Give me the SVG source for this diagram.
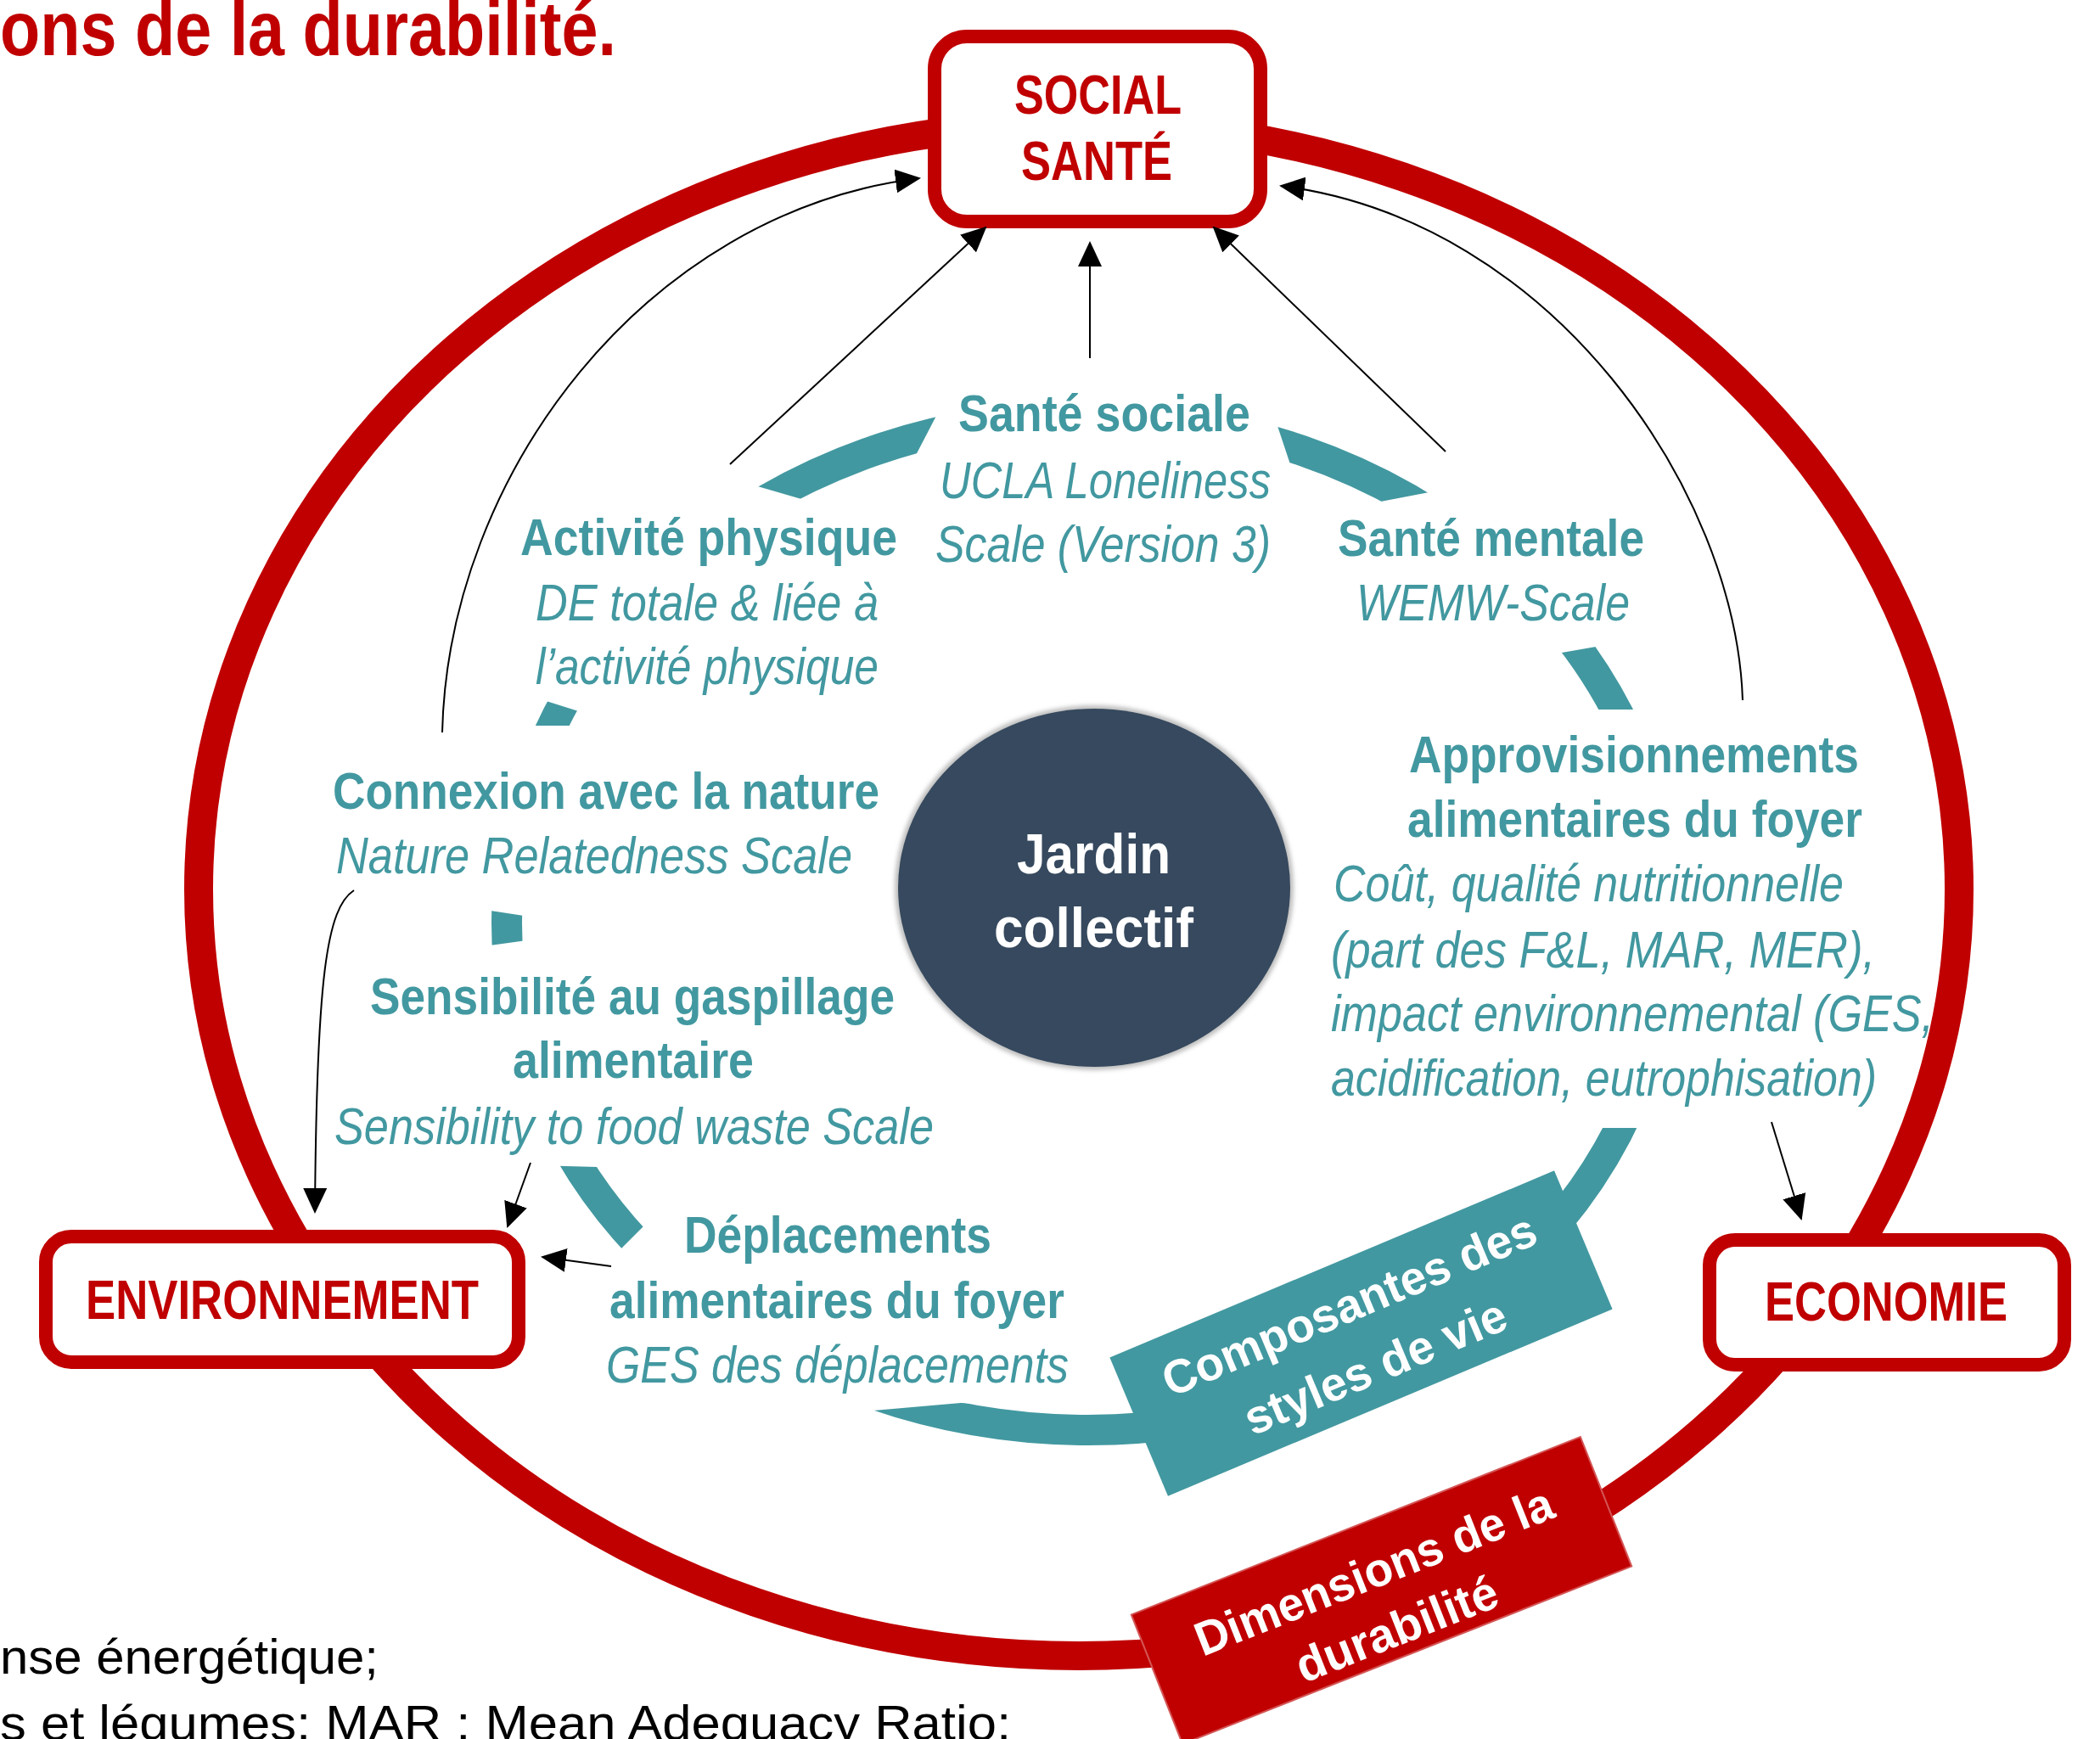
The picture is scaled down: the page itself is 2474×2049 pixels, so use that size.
<svg xmlns="http://www.w3.org/2000/svg" width="2474" height="2049" viewBox="0 0 2474 2049">
<style>
.n { font-family: 'Liberation Sans Narrow','Arial Narrow','Liberation Sans',Arial,sans-serif; }
.w { font-family: 'Liberation Sans',Arial,sans-serif; }
.tb { font-weight: bold; font-size: 61px; fill: #4298A0; }
.ti { font-style: italic; font-size: 61px; fill: #4298A0; }
.rl { font-weight: bold; font-size: 64px; fill: #C00000; }
.wl { font-weight: bold; font-size: 56px; fill: #FFFFFF; }
.box { fill: #FFFFFF; stroke: #C00000; stroke-width: 16; }
.con { fill: none; stroke: #000000; stroke-width: 2; marker-end: url(#ah); }
.foot { font-family: 'Liberation Sans',Arial,sans-serif; font-size: 58px; fill: #000000; }
</style>
<defs>
<marker id="ah" viewBox="0 0 30 28" refX="28" refY="14" markerWidth="30" markerHeight="28" markerUnits="userSpaceOnUse" orient="auto">
<path d="M0,0 L30,14 L0,28 z" fill="#000000"/>
</marker>
<mask id="ringmask" maskUnits="userSpaceOnUse" x="0" y="0" width="2474" height="2049">
<rect x="0" y="0" width="2474" height="2049" fill="#FFFFFF"/>
<polygon points="1116,465 1300,440 1496,475 1531,580 1064,565" fill="#000000"/>
<polygon points="1590,598 1715,574 1920,755 1800,776" fill="#000000"/>
<polygon points="1840,836 2020,836 2020,1329 1840,1329" fill="#000000"/>
<polygon points="790,1413 1320,1600 1320,1664 1132,1653 1029,1662 1010,1730 705,1498" fill="#000000"/>
<polygon points="630,1373 740,1376 650,1104 555,1117" fill="#000000"/>
<polygon points="545,1068 650,1084 710,855 600,855" fill="#000000"/>
<polygon points="615,817 700,660 865,565 975,597 710,847" fill="#000000"/>
</mask>
<filter id="glow" x="-10%" y="-10%" width="120%" height="120%">
<feGaussianBlur stdDeviation="2.5"/>
</filter>
</defs>

<text id="title" class="n" x="0" y="65" font-weight="bold" font-size="90" fill="#C00000" textLength="726" lengthAdjust="spacingAndGlyphs">ons de la durabilité.</text>

<g id="sustainability-ring">
<ellipse cx="1271" cy="1048" rx="1037" ry="903" fill="none" stroke="#C00000" stroke-width="34"/>
</g>

<g id="lifestyle-ring">
<ellipse cx="1282" cy="1087" rx="685" ry="598" fill="none" stroke="#4298A0" stroke-width="36" mask="url(#ringmask)"/>
</g>

<g id="jardin">
<ellipse cx="1289" cy="1046" rx="235" ry="215" fill="#BFBFBF" filter="url(#glow)"/>
<ellipse cx="1289" cy="1046" rx="231" ry="211" fill="#36495E"/>
<text class="n" x="1198" y="1029" font-weight="bold" font-size="66" fill="#FFFFFF" textLength="181" lengthAdjust="spacingAndGlyphs">Jardin</text>
<text class="n" x="1171" y="1116" font-weight="bold" font-size="66" fill="#FFFFFF" textLength="235" lengthAdjust="spacingAndGlyphs">collectif</text>
</g>

<g id="label-composantes" transform="translate(1603.5,1571) rotate(-22.8)">
<rect x="-284" y="-88.5" width="568" height="177" fill="#4298A0"/>
<text class="w wl" x="0" y="-17" text-anchor="middle" textLength="472" lengthAdjust="spacingAndGlyphs">Composantes des</text>
<text class="w wl" x="0" y="62" text-anchor="middle" textLength="330" lengthAdjust="spacingAndGlyphs">styles de vie</text>
</g>

<g id="label-dimensions" transform="translate(1627.5,1874) rotate(-21.6)">
<rect x="-284.5" y="-82" width="569" height="164" fill="#C00000" stroke="#D45555" stroke-width="2"/>
<text class="w wl" x="0" y="-5" text-anchor="middle" textLength="449" lengthAdjust="spacingAndGlyphs">Dimensions de la</text>
<text class="w wl" x="0" y="68" text-anchor="middle" textLength="251" lengthAdjust="spacingAndGlyphs">durabilité</text>
</g>

<g id="social-sante">
<rect class="box" x="1101" y="43" width="384" height="218" rx="38" ry="38"/>
<text class="n rl" x="1195" y="134" textLength="197" lengthAdjust="spacingAndGlyphs">SOCIAL</text>
<text class="n rl" x="1203" y="212" textLength="178" lengthAdjust="spacingAndGlyphs">SANTÉ</text>
</g>

<g id="environnement">
<rect class="box" x="54" y="1457" width="557" height="148" rx="30" ry="30"/>
<text class="n rl" x="101" y="1554" textLength="463" lengthAdjust="spacingAndGlyphs">ENVIRONNEMENT</text>
</g>

<g id="economie">
<rect class="box" x="2014" y="1461" width="418" height="147" rx="30" ry="30"/>
<text class="n rl" x="2079" y="1556" textLength="286" lengthAdjust="spacingAndGlyphs">ECONOMIE</text>
</g>

<g id="sante-sociale">
<text class="n tb" x="1129" y="508" textLength="344" lengthAdjust="spacingAndGlyphs">Santé sociale</text>
<text class="n ti" x="1107" y="587" textLength="390" lengthAdjust="spacingAndGlyphs">UCLA Loneliness</text>
<text class="n ti" x="1102" y="662" textLength="395" lengthAdjust="spacingAndGlyphs">Scale (Version 3)</text>
</g>

<g id="activite-physique">
<text class="n tb" x="613" y="654" textLength="444" lengthAdjust="spacingAndGlyphs">Activité physique</text>
<text class="n ti" x="631" y="731" textLength="404" lengthAdjust="spacingAndGlyphs">DE totale &amp; liée à</text>
<text class="n ti" x="631" y="806" textLength="404" lengthAdjust="spacingAndGlyphs">l’activité physique</text>
</g>

<g id="sante-mentale">
<text class="n tb" x="1576" y="655" textLength="361" lengthAdjust="spacingAndGlyphs">Santé mentale</text>
<text class="n ti" x="1598" y="731" textLength="322" lengthAdjust="spacingAndGlyphs">WEMW-Scale</text>
</g>

<g id="approvisionnements">
<text class="n tb" x="1660" y="910" textLength="530" lengthAdjust="spacingAndGlyphs">Approvisionnements</text>
<text class="n tb" x="1658" y="986" textLength="536" lengthAdjust="spacingAndGlyphs">alimentaires du foyer</text>
<text class="n ti" x="1571" y="1062" textLength="601" lengthAdjust="spacingAndGlyphs">Coût, qualité nutritionnelle</text>
<text class="n ti" x="1568" y="1140" textLength="641" lengthAdjust="spacingAndGlyphs">(part des F&amp;L, MAR, MER),</text>
<text class="n ti" x="1568" y="1215" textLength="710" lengthAdjust="spacingAndGlyphs">impact environnemental  (GES,</text>
<text class="n ti" x="1568" y="1291" textLength="643" lengthAdjust="spacingAndGlyphs">acidification, eutrophisation)</text>
</g>

<g id="connexion-nature">
<text class="n tb" x="392" y="953" textLength="644" lengthAdjust="spacingAndGlyphs">Connexion avec la nature</text>
<text class="n ti" x="396" y="1029" textLength="608" lengthAdjust="spacingAndGlyphs">Nature Relatedness  Scale</text>
</g>

<g id="gaspillage">
<text class="n tb" x="436" y="1195" textLength="618" lengthAdjust="spacingAndGlyphs">Sensibilité au gaspillage</text>
<text class="n tb" x="604" y="1270" textLength="284" lengthAdjust="spacingAndGlyphs">alimentaire</text>
<text class="n ti" x="394" y="1348" textLength="706" lengthAdjust="spacingAndGlyphs">Sensibility to food waste  Scale</text>
</g>

<g id="deplacements">
<text class="n tb" x="806" y="1476" textLength="362" lengthAdjust="spacingAndGlyphs">Déplacements</text>
<text class="n tb" x="718" y="1553" textLength="536" lengthAdjust="spacingAndGlyphs">alimentaires du foyer</text>
<text class="n ti" x="714" y="1629" textLength="545" lengthAdjust="spacingAndGlyphs">GES des déplacements</text>
</g>

<g id="connectors">
<path class="con" d="M521,863 C528,560 760,250 1083,210"/>
<path class="con" d="M860,547 L1161,268"/>
<path class="con" d="M1284,422 L1284,286"/>
<path class="con" d="M1703,532 L1430,268"/>
<path class="con" d="M2053,825 C2045,580 1830,260 1509,219"/>
<path class="con" d="M417,1049 C385,1070 373,1150 371,1428"/>
<path class="con" d="M625,1370 L598,1445"/>
<path class="con" d="M720,1492 L639,1481"/>
<path class="con" d="M2087,1322 L2122,1436"/>
</g>

<g id="footnote">
<text class="foot" x="0" y="1972" textLength="446" lengthAdjust="spacingAndGlyphs">nse énergétique;</text>
<text class="foot" x="0" y="2050" textLength="1191" lengthAdjust="spacingAndGlyphs">s et légumes; MAR : Mean Adequacy Ratio;</text>
</g>
</svg>
